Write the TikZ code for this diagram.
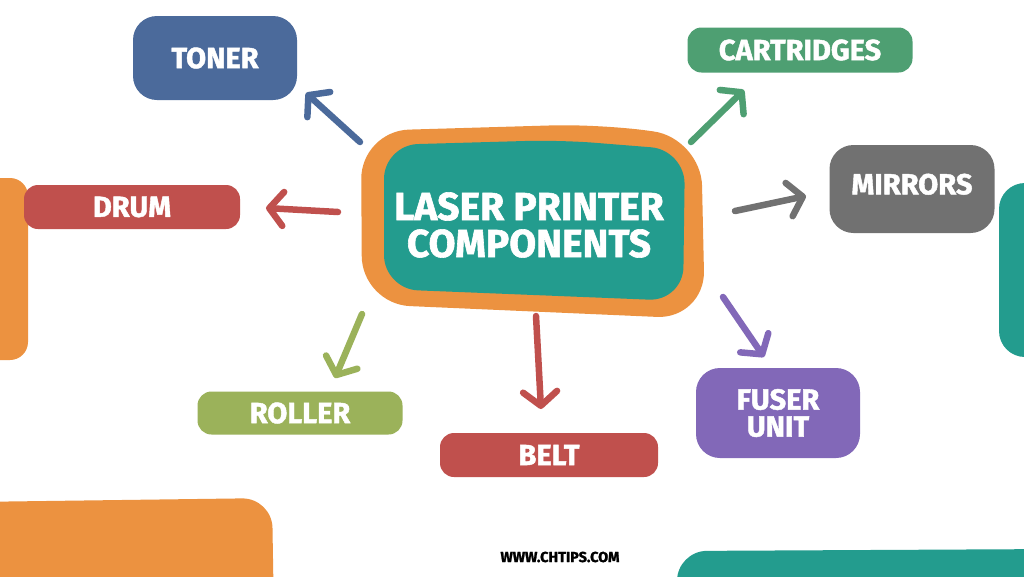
\documentclass[tikz,border=0pt]{standalone}
\usepackage{fontspec}
\setmainfont{Fira Sans}[BoldFeatures={FakeBold=1.5}]
\usetikzlibrary{arrows.meta}
\definecolor{corange}{HTML}{EC9240}
\definecolor{cteal}{HTML}{239C8E}
\definecolor{cblue}{HTML}{4B6A9B}
\definecolor{cred}{HTML}{C0504D}
\definecolor{cgreen}{HTML}{4E9F72}
\definecolor{cgray}{HTML}{717171}
\definecolor{colive}{HTML}{9BB25A}
\definecolor{cpurple}{HTML}{8268B8}
\newcommand\labfont{\bfseries\fontsize{29}{27}\selectfont}
\newcommand\hubfont{\bfseries\fontsize{39}{37}\selectfont}
\tikzset{
  box/.style={rounded corners=14pt, inner sep=0pt, text=white, font=\labfont, align=center},
  arr/.style={line width=6.5pt, line cap=round, -{Straight Barb[length=14pt,width=34pt,round]}},
}
\begin{document}
\begin{tikzpicture}[x=1pt,y=-1pt]
\useasboundingbox (0,0) rectangle (1024,576);
\fill[white] (0,0) rectangle (1024,576);
% background blobs
\fill[corange, rounded corners=18pt] (-30,178) rectangle (28,360);
\fill[cteal, rounded corners=26pt] (999,183) rectangle (1060,357);
\fill[corange, rounded corners=30pt] (-30,502) -- (272,498) -- (274,620) -- (-30,620) -- cycle;
\fill[cteal, rounded corners=30pt] (677,620) -- (677,551) -- (1060,549) -- (1060,620) -- cycle;
% central blob
\fill[corange, rounded corners=48pt] (361,131) -- (600,124) -- (701,138) -- (705,319) -- (362,304) -- cycle;
\fill[cteal, rounded corners=34pt] (384,145) -- (560,140) -- (685,150) -- (683,301) -- (384,289) -- cycle;
\node[text=white, font=\hubfont, align=center, inner sep=0pt] (hub) at (529,225)
  {LASER PRINTER\\COMPONENTS};
% boxes
\node[box, fill=cblue, rounded corners=24pt, minimum width=164pt, minimum height=84pt] (toner) at (215,58) {TONER};
\node[box, fill=cred, minimum width=216pt, minimum height=44pt] (drum) at (132,207) {DRUM};
\node[box, fill=cgreen, minimum width=225pt, minimum height=45pt] (cart) at (800,50) {CARTRIDGES};
\node[box, fill=cgray, rounded corners=24pt, minimum width=165pt, minimum height=88pt, text depth=10pt] (mirr) at (912,189) {MIRRORS};
\node[box, fill=colive, minimum width=205pt, minimum height=43pt] (roll) at (300,413) {ROLLER};
\node[box, fill=cred, minimum width=218pt, minimum height=44pt] (belt) at (549,455) {BELT};
\node[box, fill=cpurple, rounded corners=24pt, minimum width=164pt, minimum height=90pt] (fuser) at (778,413) {FUSER\\UNIT};
\node[font=\bfseries\fontsize{14.5}{14}\selectfont, text=black] (web) at (560,557) {WWW.CHTIPS.COM};
% arrow ends
\coordinate (tA) at (360,142); \coordinate (hA) at (306,93);
\coordinate (tB) at (338,212); \coordinate (hB) at (266,208);
\coordinate (tC) at (691,142); \coordinate (hC) at (744,90);
\coordinate (tD) at (735,211); \coordinate (hD) at (806,196);
\coordinate (tE) at (362,314); \coordinate (hE) at (335,378);
\coordinate (tF) at (536,316); \coordinate (hF) at (541,409);
\coordinate (tG) at (723,297); \coordinate (hG) at (764,357);
\draw[arr, cblue] (tA) -- (hA);
\draw[arr, cred] (tB) -- (hB);
\draw[arr, cgreen] (tC) -- (hC);
\draw[arr, cgray] (tD) -- (hD);
\draw[arr, colive] (tE) -- (hE);
\draw[arr, cred] (tF) -- (hF);
\draw[arr, cpurple] (tG) -- (hG);
\end{tikzpicture}
\end{document}
